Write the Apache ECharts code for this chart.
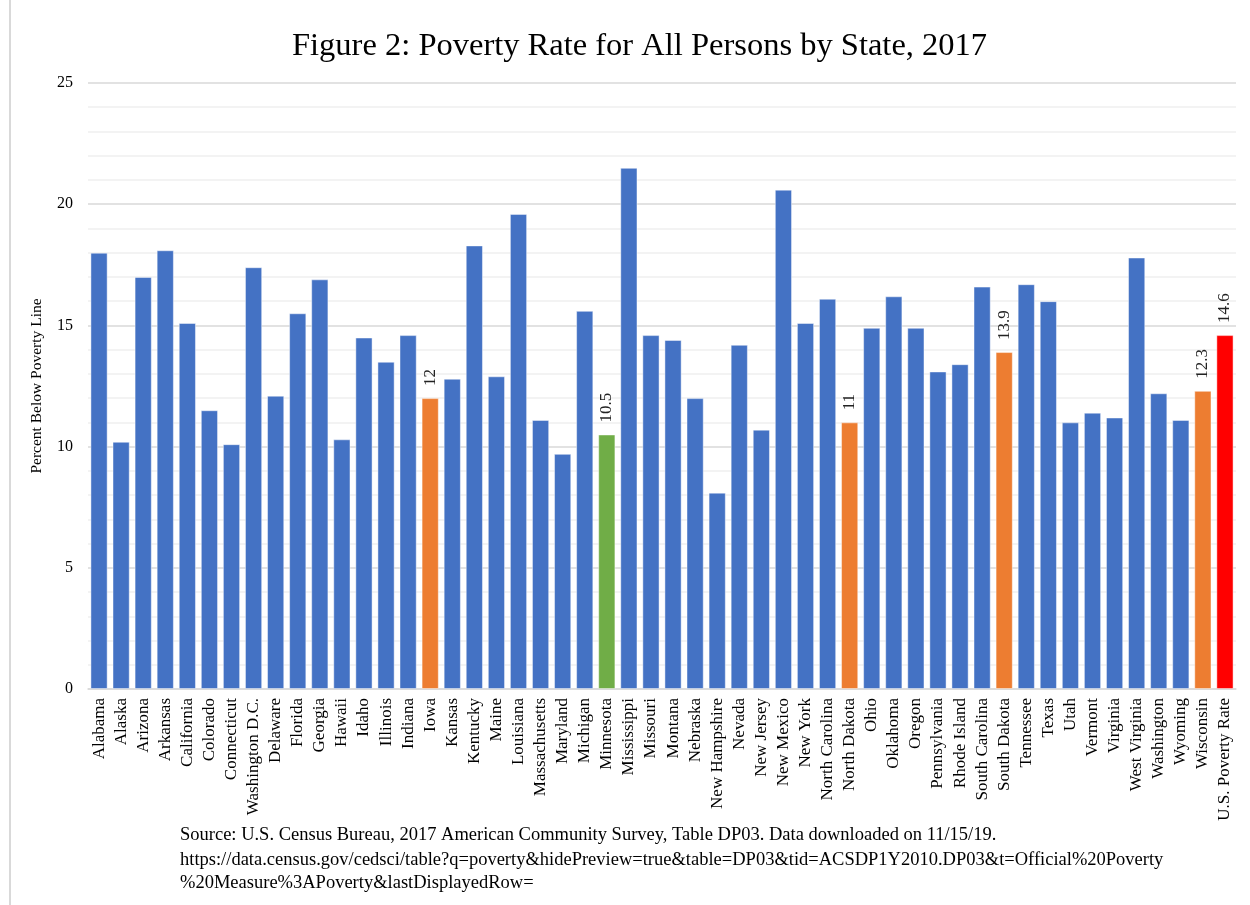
<!DOCTYPE html>
<html>
<head>
<meta charset="utf-8">
<script src="https://cdn.jsdelivr.net/npm/echarts@6/dist/echarts.min.js"></script>
<style>html,body{margin:0;padding:0;background:#fff;}#chart{width:1250px;height:905px;}</style>
</head>
<body>
<div id="chart"></div>
<script>
const categories = ['Alabama','Alaska','Arizona','Arkansas','California','Colorado','Connecticut','Washington D.C.','Delaware','Florida','Georgia','Hawaii','Idaho','Illinois','Indiana','Iowa','Kansas','Kentucky','Maine','Louisiana','Massachusetts','Maryland','Michigan','Minnesota','Mississippi','Missouri','Montana','Nebraska','New Hampshire','Nevada','New Jersey','New Mexico','New York','North Carolina','North Dakota','Ohio','Oklahoma','Oregon','Pennsylvania','Rhode Island','South Carolina','South Dakota','Tennessee','Texas','Utah','Vermont','Virginia','West Virginia','Washington','Wyoming','Wisconsin','U.S. Poverty Rate'];
const values = [18.0,10.2,17.0,18.1,15.1,11.5,10.1,17.4,12.1,15.5,16.9,10.3,14.5,13.5,14.6,12,12.8,18.3,12.9,19.6,11.1,9.7,15.6,10.5,21.5,14.6,14.4,12.0,8.1,14.2,10.7,20.6,15.1,16.1,11,14.9,16.2,14.9,13.1,13.4,16.6,13.9,16.7,16.0,11.0,11.4,11.2,17.8,12.2,11.1,12.3,14.6];
const orangeStates = ['Iowa','North Dakota','South Dakota','Wisconsin'];
const greenStates = ['Minnesota'];
const redStates = ['U.S. Poverty Rate'];
const titleText = 'Figure 2: Poverty Rate for All Persons by State, 2017';
const yAxisName = 'Percent Below Poverty Line';
const sourceLines = [
  'Source: U.S. Census Bureau, 2017 American Community Survey, Table DP03. Data downloaded on 11/15/19.',
  'https://data.census.gov/cedsci/table?q=poverty&hidePreview=true&table=DP03&tid=ACSDP1Y2010.DP03&t=Official%20Poverty',
  '%20Measure%3APoverty&lastDisplayedRow='
];

const BLUE = '#4472C4', ORANGE = '#ED7D31', GREEN = '#70AD47', RED = '#FF0000';
const SERIF = '"Liberation Serif", "Times New Roman", serif';

const data = categories.map((c, i) => {
  let color = BLUE, hl = false;
  if (orangeStates.includes(c)) { color = ORANGE; hl = true; }
  else if (greenStates.includes(c)) { color = GREEN; hl = true; }
  else if (redStates.includes(c)) { color = RED; hl = true; }
  return { value: values[i], itemStyle: { color: color }, label: { show: hl } };
});

const chart = echarts.init(document.getElementById('chart'), null, { renderer: 'canvas' });
chart.setOption({
  backgroundColor: '#fff',
  animation: false,
  title: {
    text: titleText,
    left: 287,
    top: 25,
    textStyle: { fontFamily: SERIF, fontSize: 32.5, fontWeight: 'normal', color: '#000' }
  },
  grid: { left: 88, right: 14, top: 83, bottom: 216, containLabel: false },
  xAxis: {
    type: 'category',
    data: categories,
    axisLine: { show: true, lineStyle: { color: '#d9d9d9', width: 1.5 } },
    axisTick: { show: false },
    axisLabel: { rotate: 90, interval: 0, margin: 9, fontFamily: SERIF, fontSize: 17, color: '#000' }
  },
  yAxis: {
    type: 'value',
    min: 0, max: 25, interval: 5,
    name: yAxisName,
    nameLocation: 'middle',
    nameGap: 43,
    nameTextStyle: { fontFamily: SERIF, fontSize: 15.5, color: '#000' },
    axisLine: { show: false },
    axisTick: { show: false },
    axisLabel: { fontFamily: SERIF, fontSize: 16, color: '#000', margin: 15 },
    splitLine: { show: true, lineStyle: { color: '#d9d9d9', width: 1.5 } },
    minorTick: { show: false, splitNumber: 5 },
    minorSplitLine: { show: true, lineStyle: { color: '#f0f0f0', width: 1.5 } }
  },
  series: [{
    type: 'bar',
    data: data,
    barCategoryGap: '22%',
    itemStyle: { borderColor: 'rgba(255,255,255,0.45)', borderWidth: 1 },
    label: {
      show: false,
      position: 'top',
      rotate: 90,
      align: 'left',
      verticalAlign: 'middle',
      distance: 12,
      fontFamily: SERIF,
      fontSize: 17,
      color: '#222'
    }
  }],
  graphic: [
    { type: 'line', shape: { x1: 10, y1: 0, x2: 10, y2: 905 }, style: { stroke: '#d9d9d9', lineWidth: 2 } },
    { type: 'text', left: 180, top: 826, style: { text: sourceLines[0], font: '18.5px ' + SERIF, fill: '#000' } },
    { type: 'text', left: 180, top: 851, style: { text: sourceLines[1], font: '18.5px ' + SERIF, fill: '#000' } },
    { type: 'text', left: 180, top: 874, style: { text: sourceLines[2], font: '18.5px ' + SERIF, fill: '#000' } }
  ]
});
</script>
</body>
</html>
